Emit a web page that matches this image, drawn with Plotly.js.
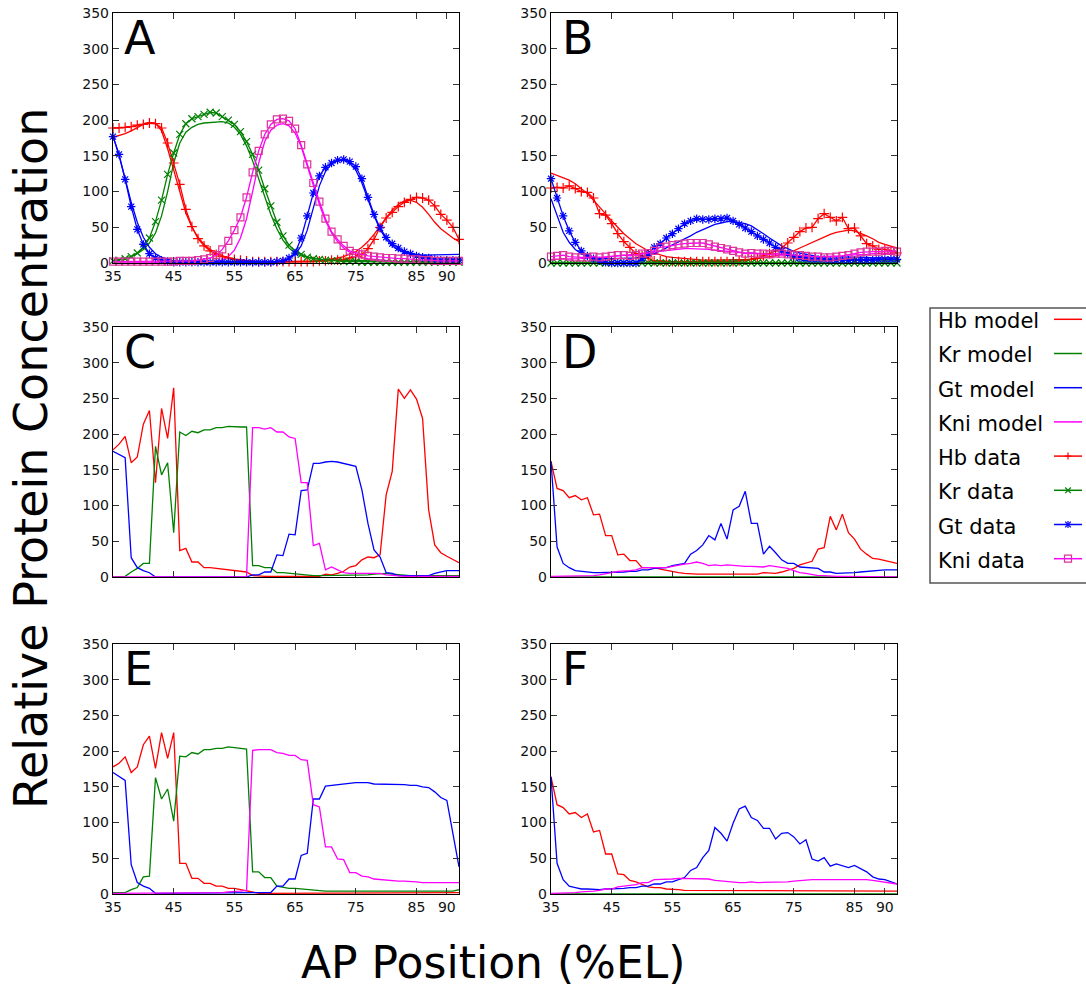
<!DOCTYPE html>
<html>
<head>
<meta charset="utf-8">
<script src="https://cdn.plot.ly/plotly-3.0.1.min.js"></script>
<style>
html,body{margin:0;padding:0;background:#fff;}
#chart{width:1086px;height:991px;}
</style>
</head>
<body>
<div id="chart"></div>
<script>
// AP positions (%EL)
const apPos = [35,36,37,38,39,40,41,42,43,44,45,46,47,48,49,50,51,52,53,54,55,56,57,58,59,60,61,62,63,64,65,66,67,68,69,70,71,72,73,74,75,76,77,78,79,80,81,82,83,84,85,86,87,88,89,90,91,92];
const xTickVals = [35,45,55,65,75,85,90];
const xTickText = ["35","45","55","65","75","85","90"];
const yTickVals = [0,50,100,150,200,250,300,350];

// Panel A
const aHbModel = [176,178,181,185,190,194,197,196,185,160, 130,98,70,50,36,26,19,14,10,7, 5,4,3,2,2,1,1,1,1,1, 1,1,2,2,3,4,5,7,9,12, 16,22,30,40,52,63,74,82,87,88, 85,78,68,57,48,41,35,30];
const aKrModel = [3,4,6,9,13,19,28,42,66,100, 140,168,183,190,194,196,197,198,198,196, 190,180,164,143,118,92,68,48,32,21, 14,10,8,6,5,4,4,4,4,4, 4,4,3,3,2,2,2,2,1,1, 1,1,1,1,1,1,1,1];
const aGtModel = [178,150,118,85,57,36,22,13,8,5, 3,2,1,1,1,1,1,1,1,1, 1,1,1,1,1,1,1,2,3,6, 12,24,46,78,108,128,139,143,144,140, 130,112,89,66,47,33,24,18,15,13, 12,11,11,11,11,11,12,12];
const aKniModel = [0,0,0,0,0,0,0,0,0,0, 0,0,1,1,1,1,1,2,4,9, 18,35,62,100,140,170,186,193,195,192, 182,163,136,108,82,59,42,30,21,15, 11,8,6,5,4,3,3,2,2,2, 2,2,2,2,2,2,2,2];
const aHbData = [189,189,190,191,193,194,196,195,189,168, 140,110,75,51,34,24,17,12,9,7, 5,4,3,2,2,2,2,2,2,2, 2,2,2,2,3,3,4,4,5,7, 9,12,20,33,50,63,71,79,85,89, 92,91,88,80,68,60,50,33];
const aKrData = [3,4,6,9,14,22,35,58,88,124, 154,180,195,202,205,208,211,210,205,200, 194,184,170,152,130,104,80,57,38,25, 17,12,8,6,5,4,3,3,2,2, 2,1,1,1,1,1,1,1,1,1, 1,1,1,1,1,1,1,1];
const aGtData = [177,152,117,79,47,26,13,7,4,2, 1,1,1,1,1,1,1,1,1,1, 1,1,1,1,1,1,1,2,3,7, 14,35,66,98,122,134,140,144,145,142, 135,118,92,68,49,36,27,21,16,13, 10,8,7,5,4,4,4,4];
const aKniData = [2,2,2,2,2,2,2,2,2,2, 2,3,3,3,4,5,7,11,19,31, 46,64,92,127,157,180,194,201,202,199, 188,165,138,112,86,62,44,33,24,17, 14,12,10,9,8,7,7,6,6,5, 5,4,4,3,3,3,3,3];

// Panel B
const bHbModel = [126,123,120,116,111,104,97,88,78,68, 59,50,41,34,27,22,17,14,11,9, 8,7,6,5,4,4,4,4,4,4, 4,4,5,5,6,7,8,10,12,14, 17,21,25,29,33,36,40,43,45,46, 45,42,38,34,29,26,23,21];
const bKrModel = [0,0,0,0,0,0,0,0,0,0, 0,0,0,0,0,0,0,0,0,0, 0,0,0,0,0,0,0,0,0,0, 0,0,0,0,0,0,0,0,0,0, 0,0,0,0,0,0,0,0,0,0, 0,0,0,0,0,0,0,0];
const bGtModel = [90,66,43,29,19,13,9,7,6,6, 6,6,6,6,7,8,10,13,17,21, 26,30,34,38,43,47,51,54,56,58, 58,57,55,52,47,41,35,29,24,20, 16,14,12,10,9,9,9,8,8,8, 8,8,8,7,7,7,7,7];
const bKniModel = [5,5,5,5,6,6,7,7,8,8, 9,10,11,12,13,14,15,16,17,18, 19,19,20,20,20,19,19,18,17,16, 16,15,14,14,13,13,12,11,11,10, 10,10,9,9,9,9,10,10,10,11, 11,12,12,13,13,13,14,14];
const bHbData = [105,106,105,108,104,100,99,91,69,67, 55,41,30,22,13,10,7,3,3,2, 2,2,2,2,2,2,2,2,2,2, 2,3,4,5,7,10,13,17,21,28, 36,44,49,50,62,69,64,59,64,48, 49,38,27,24,19,19,17,14];
const bKrData = [0,0,0,0,0,0,0,0,0,0, 0,0,0,0,0,0,0,0,0,0, 0,0,0,0,0,0,0,0,0,0, 0,0,0,0,0,0,0,0,0,0, 0,0,0,0,0,0,0,0,0,0, 0,0,0,0,0,0,0,0];
const bGtData = [118,91,66,45,29,17,10,6,3,1, 0,0,0,0,0,6,13,22,27,35, 41,48,55,59,62,61,61,62,62,63, 59,54,49,44,38,33,28,22,17,13, 9,7,6,5,5,5,4,4,4,4, 4,4,4,4,5,5,5,5];
const bKniData = [9,10,11,9,8,8,8,9,8,9, 10,11,11,10,11,13,14,17,22,23, 25,26,27,28,28,28,26,23,21,19, 17,15,13,14,13,13,12,13,13,12, 11,11,10,9,9,8,8,9,10,11, 13,15,16,16,16,17,17,16];

// Panel C
const cHb = [178,186,197,160,168,214,233,132,236,194, 265,37,40,21,21,13,13,12,11,9, 9,7,7,2,1,1,1,1,1,1, 1,1,1,1,1,4,3,5,8,14, 16,24,28,27,31,115,148,263,250,262, 249,222,94,45,34,29,24,20];
const cKr = [0,0,1,7,12,19,19,183,143,160, 62,203,198,204,202,206,206,209,209,211, 210,210,210,16,16,13,13,6,6,5, 4,3,2,2,2,2,2,2,2,2, 2,3,3,4,5,5,4,3,2,2, 2,2,2,2,2,2,2,2];
const cGt = [176,172,167,27,13,9,6,0,0,0, 0,0,0,0,0,0,0,0,0,0, 0,0,0,3,3,7,7,31,30,60, 59,121,122,159,159,161,162,161,159,156, 155,122,75,38,28,6,5,2,2,2, 2,2,2,5,7,9,9,9];
const cKni = [0,0,0,0,0,0,0,0,0,0, 0,0,0,0,0,0,0,0,0,0, 0,0,0,209,209,207,209,203,203,196, 194,132,132,44,47,10,14,10,6,5, 5,5,5,5,5,3,2,1,1,1, 1,1,1,1,1,1,1,1];

// Panel D
const dHb = [162,124,121,111,114,108,111,87,88,58, 58,31,32,23,23,13,13,13,11,9, 7,6,5,4,4,4,4,4,4,4, 4,4,4,4,4,6,5,5,7,10, 12,17,19,22,39,41,85,66,88,62, 53,39,32,26,25,23,20,19];
const dKr = [0,0,0,0,0,0,0,0,0,0, 0,0,0,0,0,0,0,0,0,0, 0,0,0,0,0,0,0,0,0,0, 0,0,0,0,0,0,0,0,0,0, 0,0,0,0,0,0,0,0,0,0, 0,0,0,0,0,0,0,0];
const dGt = [162,42,19,13,9,8,6,6,6,6, 6,7,7,8,8,10,10,12,12,13, 16,18,19,32,37,45,58,52,75,53, 94,99,120,75,75,32,43,34,24,19, 19,14,13,13,12,7,7,5,5,5, 6,7,8,9,9,10,10,10];
const dKni = [1,1,1,1,1,1,2,2,3,4, 6,8,8,9,10,13,13,13,13,13, 15,17,18,19,21,19,16,17,16,17, 16,16,15,15,15,14,16,15,14,12, 9,6,5,3,2,2,1,1,1,1, 0,0,0,0,0,0,0,0];

// Panel E
const eHb = [178,183,192,170,178,209,221,176,226,190, 226,43,43,22,22,15,15,11,11,8, 8,6,5,2,1,1,1,1,1,1, 1,1,1,1,1,1,1,1,1,1, 1,1,1,1,1,1,1,1,1,1, 1,1,1,1,2,2,2,2];
const eKr = [2,2,2,6,9,24,25,163,133,147, 102,193,192,198,196,202,202,204,204,206, 205,203,203,31,31,23,23,11,9,8, 8,7,6,5,5,4,4,4,4,4, 4,4,4,4,4,4,4,4,4,4, 4,4,4,4,4,4,4,6];
const eGt = [170,164,159,41,16,11,8,1,1,1, 1,1,1,1,1,1,1,1,1,1, 1,1,1,1,1,1,2,11,11,21, 21,54,57,133,133,151,152,154,154,156, 156,156,156,154,154,154,153,153,153,152, 152,150,149,143,135,131,85,38];
const eKni = [1,1,1,1,1,1,1,1,1,1, 1,1,2,2,2,2,2,2,2,3, 3,4,5,201,202,202,202,198,197,194, 194,188,187,125,122,66,66,49,48,30, 30,25,24,21,20,20,19,18,18,18, 17,16,16,15,15,15,15,16];

// Panel F
const fHb = [164,125,121,112,114,107,112,87,89,56, 56,28,27,19,17,13,10,9,9,7, 7,6,5,5,4,4,4,4,4,4, 4,4,4,4,4,4,4,4,4,4, 4,4,4,4,4,4,4,4,4,4, 4,4,4,4,4,4,4,4];
const fKr = [0,0,0,0,0,0,0,0,0,0, 0,0,0,0,0,0,0,0,0,0, 0,0,0,0,0,0,0,0,0,0, 0,0,0,0,0,0,0,0,0,0, 0,0,0,0,0,0,0,0,0,0, 0,0,0,0,0,0,0,0];
const fGt = [164,43,20,11,9,7,7,6,6,7, 7,8,8,9,9,11,11,14,14,17, 17,20,23,33,37,51,61,93,85,74, 99,119,123,107,103,92,92,77,85,86, 80,70,76,49,46,51,39,42,39,37, 40,35,31,24,21,20,17,14];
const fKni = [1,1,1,2,2,3,3,4,5,7, 7,10,11,12,13,16,16,20,20,21, 21,22,22,22,21,21,21,19,18,18, 17,16,16,17,16,16,16,17,17,17, 18,19,19,20,20,20,20,20,21,21, 21,21,20,19,18,17,16,14];

const genes = ["Hb","Kr","Gt","Kni"];
const panelLabels = ["A","B","C","D","E","F"];
const legendNames = ["Hb model","Kr model","Gt model","Kni model","Hb data","Kr data","Gt data","Kni data"];

const geneColor = {Hb:"#ff0000", Kr:"#008000", Gt:"#0000ff", Kni:"#ff00ff"};
const geneSymbol = {Hb:"cross-thin-open", Kr:"x-thin-open", Gt:"asterisk-open", Kni:"square-open"};
const markerColor = {Hb:"#ff0000", Kr:"#008000", Gt:"#0000ff", Kni:"#dd3399"};

const W = 1086, H = 991;
const px = v => v / W;
const py = v => 1 - v / H;

const traces = [];
function lineTrace(y, gene, ax, name) {
  traces.push({x: apPos, y: y, xaxis: "x" + ax, yaxis: "y" + ax, mode: "lines", name: name,
    line: {color: geneColor[gene], width: 1.3}, showlegend: false, hoverinfo: "skip", cliponaxis: false});
}
function dataTrace(y, gene, ax, name) {
  traces.push({x: apPos, y: y, xaxis: "x" + ax, yaxis: "y" + ax, mode: "lines+markers", name: name,
    line: {color: geneColor[gene], width: 1.3},
    marker: {symbol: geneSymbol[gene], size: 7, color: markerColor[gene], line: {color: markerColor[gene], width: 1.2}},
    showlegend: false, hoverinfo: "skip", cliponaxis: false});
}

// A
[aHbModel, aKrModel, aGtModel, aKniModel].forEach((y, i) => lineTrace(y, genes[i], "", genes[i] + " model"));
[aHbData, aKrData, aGtData, aKniData].forEach((y, i) => dataTrace(y, genes[i], "", genes[i] + " data"));
// B
[bHbModel, bKrModel, bGtModel, bKniModel].forEach((y, i) => lineTrace(y, genes[i], "2", genes[i] + " model"));
[bHbData, bKrData, bGtData, bKniData].forEach((y, i) => dataTrace(y, genes[i], "2", genes[i] + " data"));
// C-F
[[cHb, cKr, cGt, cKni], [dHb, dKr, dGt, dKni], [eHb, eKr, eGt, eKni], [fHb, fKr, fGt, fKni]].forEach((set, p) => {
  set.forEach((y, i) => lineTrace(y, genes[i], String(p + 3), genes[i]));
});

const colDomains = [[px(113), px(459)], [px(551), px(897)]];
const rowDomains = [[py(263), py(13)], [py(577), py(327)], [py(894), py(644)]];

const layout = {
  width: W, height: H,
  margin: {l: 0, r: 0, t: 0, b: 0},
  paper_bgcolor: "#ffffff", plot_bgcolor: "#ffffff",
  showlegend: false,
  font: {family: "DejaVu Sans", color: "#000"},
  annotations: [], shapes: []
};

const showXLabels = [true, false, false, false, true, true];
for (let p = 0; p < 6; p++) {
  const suffix = p === 0 ? "" : String(p + 1);
  const col = p % 2, row = Math.floor(p / 2);
  layout["xaxis" + suffix] = {
    domain: colDomains[col], anchor: "y" + suffix, range: [35, 92],
    tickmode: "array", tickvals: xTickVals, ticktext: xTickText,
    ticks: "inside", ticklen: 6, tickwidth: 1, tickcolor: "#333",
    showline: true, mirror: "ticks", linecolor: "#000", linewidth: 1.2,
    showgrid: false, zeroline: false, showticklabels: showXLabels[p],
    tickfont: {family: "DejaVu Sans", size: 14, color: "#111"}
  };
  layout["yaxis" + suffix] = {
    domain: rowDomains[row], anchor: "x" + suffix, range: [0, 350],
    tickmode: "array", tickvals: yTickVals,
    ticks: "inside", ticklen: 6, tickwidth: 1, tickcolor: "#333",
    showline: true, mirror: "ticks", linecolor: "#000", linewidth: 1.2,
    showgrid: false, zeroline: false,
    tickfont: {family: "DejaVu Sans", size: 14, color: "#111"}
  };
  layout.annotations.push({
    text: panelLabels[p], xref: "x" + suffix + " domain", yref: "y" + suffix + " domain",
    x: 9 / 346, y: 1 - 25 / 250, xanchor: "left", yanchor: "middle", showarrow: false,
    font: {family: "DejaVu Sans", size: 46, color: "#000"}
  });
}

// Axis titles
layout.annotations.push({
  text: "Relative Protein Concentration", xref: "paper", yref: "paper",
  x: px(31), y: py(459), xanchor: "center", yanchor: "middle", textangle: -90, showarrow: false,
  font: {family: "DejaVu Sans", size: 46, color: "#000"}
});
layout.annotations.push({
  text: "AP Position (%EL)", xref: "paper", yref: "paper",
  x: px(493), y: py(962), xanchor: "center", yanchor: "middle", showarrow: false, borderpad: 0,
  font: {family: "DejaVu Sans", size: 44, color: "#000"}
});

// Legend (text on the left, sample on the right)
layout.shapes.push({type: "rect", xref: "paper", yref: "paper", x0: px(930), x1: px(1100), y0: py(583), y1: py(308),
  line: {color: "#555", width: 1.5}, fillcolor: "rgba(0,0,0,0)"});
const legendGenes = ["Hb","Kr","Gt","Kni","Hb","Kr","Gt","Kni"];
legendNames.forEach((name, k) => {
  const yc = 321.3 + 34.2 * k;
  const g = legendGenes[k];
  layout.annotations.push({text: name, xref: "paper", yref: "paper", x: px(936), y: py(yc),
    xanchor: "left", yanchor: "middle", showarrow: false,
    font: {family: "DejaVu Sans", size: 21, color: "#000"}});
  const ly = yc - 2;
  layout.shapes.push({type: "line", xref: "paper", yref: "paper", x0: px(1054), x1: px(1082), y0: py(ly), y1: py(ly),
    line: {color: geneColor[g], width: 1.5}});
  if (k >= 4) {
    const cx = 1068, m = 3.5, c = markerColor[g];
    const seg = (x0, y0, x1, y1) => layout.shapes.push({type: "line", xref: "paper", yref: "paper",
      x0: px(x0), x1: px(x1), y0: py(y0), y1: py(y1), line: {color: c, width: 1.2}});
    if (g === "Hb" || g === "Gt") { seg(cx, ly - m, cx, ly + m); seg(cx - m, ly, cx + m, ly); }
    if (g === "Kr" || g === "Gt") { seg(cx - m * 0.8, ly - m * 0.8, cx + m * 0.8, ly + m * 0.8); seg(cx - m * 0.8, ly + m * 0.8, cx + m * 0.8, ly - m * 0.8); }
    if (g === "Kni") {
      layout.shapes.push({type: "rect", xref: "paper", yref: "paper", x0: px(cx - m), x1: px(cx + m),
        y0: py(ly + m), y1: py(ly - m), line: {color: c, width: 1.2}, fillcolor: "rgba(0,0,0,0)"});
    }
  }
});

Plotly.newPlot("chart", traces, layout, {displayModeBar: false, staticPlot: true});
</script>
</body>
</html>
